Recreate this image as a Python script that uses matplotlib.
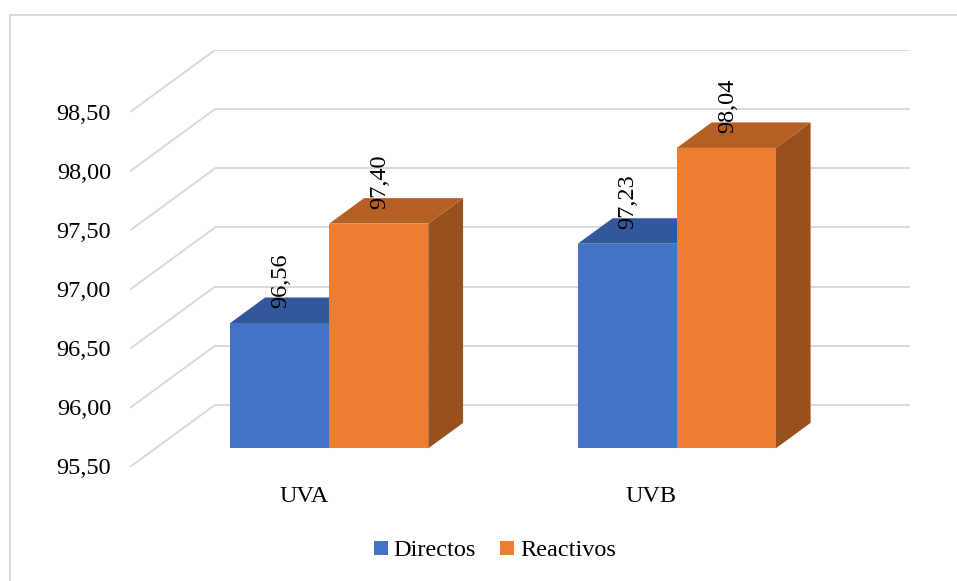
import matplotlib
matplotlib.use("Agg")
import matplotlib.pyplot as plt
from matplotlib.patches import Polygon, Patch
from matplotlib.lines import Line2D
from matplotlib.transforms import offset_copy

plt.rcParams['font.family'] = ['Liberation Serif', 'DejaVu Serif']

# Data
categories = ['UVA', 'UVB']
series_names = ['Directos', 'Reactivos']
directos = [96.56, 97.23]
reactivos = [97.40, 98.04]
y_ticks = [95.50, 96.00, 96.50, 97.00, 97.50, 98.00, 98.50]

# Styling
front_colors = ['#4472C4', '#ED7D31']
top_colors = ['#33579A', '#B65F24']
side_colors = ['#2D4E8A', '#9A4F1F']
grid_color = '#D9D9D9'
FS = 17.5

W, H = 957, 581
fig = plt.figure(figsize=(W / 100, H / 100), dpi=100)

# Oblique 3D projection: depth vector in data units
DX = 85 / 347.5
DY = 62 / 118.0
y_min, y_max = y_ticks[0], y_ticks[-1]
n_cat = len(categories)

ax = fig.add_axes([130 / W, 1 - 467 / H, 780 / W, 417 / H])
ax.set_xlim(0, n_cat + DX)
ax.set_ylim(y_min, y_max + DY)
ax.axis('off')


def proj(x, y, f):
    """Shift a point of the front plane back by depth fraction f."""
    return (x + f * DX, y + f * DY)


# Back wall and left side wall gridlines
for t in y_ticks:
    bx, by = proj(0, t, 1)
    ax.plot([bx, n_cat + DX], [by, by], color=grid_color, lw=1.4,
            solid_capstyle='butt', zorder=1)
    ax.plot([0, bx], [t, by], color=grid_color, lw=1.4,
            solid_capstyle='butt', zorder=1)

# Value axis labels
lbl_tr = offset_copy(ax.transData, fig=fig, x=-19, y=-2, units='dots')
for t in y_ticks:
    ax.text(0, t, f"{t:.2f}".replace('.', ','), transform=lbl_tr,
            ha='right', va='center', fontsize=FS, color='#000000')

# Category labels
cat_tr = offset_copy(ax.transData, fig=fig, x=0, y=-29, units='dots')
for i, c in enumerate(categories):
    ax.text(i + 0.5, y_min, c, transform=cat_tr, ha='center', va='center',
            fontsize=FS, color='#000000')

# Bars
F0, F1 = 0.3, 0.71
bar_w = 99 / 347.5
val_tr = offset_copy(ax.transData, fig=fig, x=1, y=15, units='dots')
for s, values in enumerate([directos, reactivos]):
    for i, v in enumerate(values):
        x0 = i + 0.5 - bar_w + s * bar_w
        x1 = x0 + bar_w
        b = y_min
        front = [proj(x0, b, F0), proj(x1, b, F0), proj(x1, v, F0), proj(x0, v, F0)]
        top = [proj(x0, v, F0), proj(x1, v, F0), proj(x1, v, F1), proj(x0, v, F1)]
        side = [proj(x1, b, F0), proj(x1, v, F0), proj(x1, v, F1), proj(x1, b, F1)]
        z = 3 + s
        ax.add_patch(Polygon(side, closed=True, fc=side_colors[s], ec='none', zorder=z))
        ax.add_patch(Polygon(top, closed=True, fc=top_colors[s], ec='none', zorder=z))
        ax.add_patch(Polygon(front, closed=True, fc=front_colors[s], ec='none', zorder=z))
        cx, cy = proj((x0 + x1) / 2, v, F0)
        ax.text(cx, cy, f"{v:.2f}".replace('.', ','), transform=val_tr,
                rotation=90, ha='center', va='bottom', fontsize=FS,
                color='#000000', zorder=10)

# Legend
handles = [Patch(fc=front_colors[k], ec='none') for k in range(2)]
fig.legend(handles, series_names, ncol=2, loc='center',
           bbox_to_anchor=(495 / W, 1 - 551 / H), frameon=False,
           fontsize=FS, handlelength=0.55, handleheight=0.55,
           handletextpad=0.25, columnspacing=1.0, borderpad=0)

# Chart area border
fig.add_artist(Line2D([10 / W, 1], [1 - 14.5 / H, 1 - 14.5 / H],
                      transform=fig.transFigure, color=grid_color, lw=1.4))
fig.add_artist(Line2D([10 / W, 10 / W], [1 - 14.5 / H, 0],
                      transform=fig.transFigure, color=grid_color, lw=1.4))

fig.savefig('out.png', dpi=100, facecolor='white')
